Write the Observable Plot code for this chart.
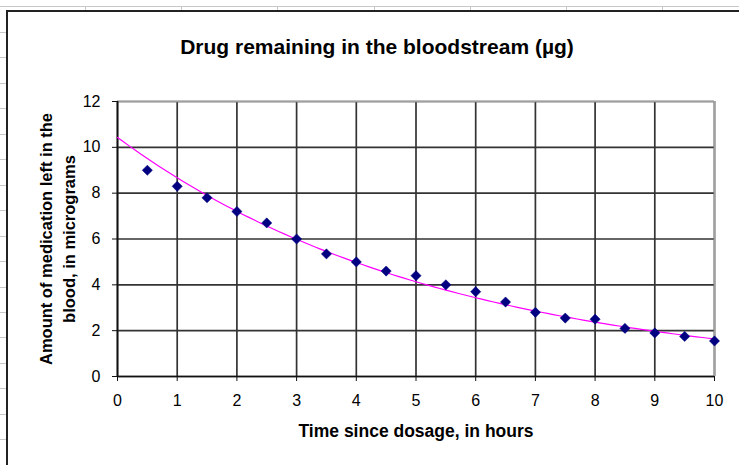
<!DOCTYPE html>
<html>
<head>
<meta charset="utf-8">
<script src="https://cdn.jsdelivr.net/npm/d3@7"></script>
<script src="https://cdn.jsdelivr.net/npm/@observablehq/plot@0.6"></script>
<style>
  html, body { margin: 0; padding: 0; background: #fff; }
  #wrap { position: relative; width: 739px; height: 465px; overflow: hidden; font-family: "Liberation Sans", Arial, sans-serif; }
  .deco { position: absolute; }
  #chart { position: absolute; left: 0; top: 0; }
</style>
</head>
<body>
<div id="wrap"></div>
<script>
// Data
const hours = [0.5, 1, 1.5, 2, 2.5, 3, 3.5, 4, 4.5, 5, 5.5, 6, 6.5, 7, 7.5, 8, 8.5, 9, 9.5, 10];
const micrograms = [9.0, 8.3, 7.8, 7.2, 6.7, 6.0, 5.35, 5.0, 4.6, 4.4, 4.0, 3.7, 3.25, 2.8, 2.55, 2.5, 2.1, 1.9, 1.75, 1.55];
const xTicks = [0, 1, 2, 3, 4, 5, 6, 7, 8, 9, 10];
const yTicks = [0, 2, 4, 6, 8, 10, 12];
const titleText = "Drug remaining in the bloodstream (µg)";
const xLabel = "Time since dosage, in hours";
const yLabel = "Amount of medication left in the\nblood, in micrograms";

const points = hours.map((h, i) => ({hour: h, amount: micrograms[i]}));

// Exponential trendline (least squares on log values, as a spreadsheet does)
const lx = hours, ly = micrograms.map(Math.log);
const mx = d3.mean(lx), my = d3.mean(ly);
const slope = d3.sum(lx, (x, i) => (x - mx) * (ly[i] - my)) / d3.sum(lx, x => (x - mx) ** 2);
const intercept = my - slope * mx;
const trend = d3.range(0, 10.0001, 0.1).map(x => ({hour: x, amount: Math.exp(intercept + slope * x)}));

const wrap = document.getElementById("wrap");

// spreadsheet-like surroundings
function addDeco(css) {
  const d = document.createElement("div");
  d.className = "deco";
  Object.assign(d.style, css);
  wrap.appendChild(d);
}
addDeco({left: "0px", top: "6px", width: "739px", height: "1px", background: "#c8c8c8"});
[85, 181, 277, 374, 470, 566, 662].forEach(x => addDeco({left: x + "px", top: "6px", width: "1px", height: "4px", background: "#c8c8c8"}));
d3.range(32, 465, 25.45).forEach(y => addDeco({left: "0px", top: Math.round(y) + "px", width: "6px", height: "1px", background: "#c8c8c8"}));
addDeco({left: "6px", top: "10px", width: "733px", height: "455px", borderLeft: "2px solid #222", borderTop: "2px solid #222", background: "#fff"});

const chart = Plot.plot({
  width: 739,
  height: 465,
  marginLeft: 117,
  marginRight: 25,
  marginTop: 101,
  marginBottom: 89,
  style: {background: "transparent", fontFamily: "'Liberation Sans', Arial, sans-serif", fontSize: "16px", color: "#000", overflow: "visible"},
  x: {domain: [0, 10], label: null},
  y: {domain: [0, 12], label: null},
  marks: [
    Plot.gridX(xTicks, {stroke: "#333", strokeOpacity: 1, strokeWidth: 1.7}),
    Plot.gridY(yTicks, {stroke: "#333", strokeOpacity: 1, strokeWidth: 1.7}),
    Plot.ruleX([10], {stroke: "#a0a0a0", strokeWidth: 1.7}),
    Plot.ruleY([12], {stroke: "#a0a0a0", strokeWidth: 1.7}),
    Plot.ruleX([0], {stroke: "#111", strokeWidth: 1.7}),
    Plot.ruleY([0], {stroke: "#111", strokeWidth: 1.7}),
    Plot.axisX(xTicks, {stroke: "#111", fontSize: 16, tickSize: 5, tickPadding: 13, label: null, tickFormat: d => String(d)}),
    Plot.axisY(yTicks, {stroke: "#111", fontSize: 16, tickSize: 5, tickPadding: 12, label: null, tickFormat: d => String(d)}),
    Plot.line(trend, {x: "hour", y: "amount", stroke: "#ff00ff", strokeWidth: 1.2}),
    Plot.dot(points, {x: "hour", y: "amount", symbol: "diamond2", r: 4.6, fill: "#000080", stroke: "#000080", strokeWidth: 0.5}),
    Plot.text([titleText], {frameAnchor: "top", lineAnchor: "middle", dx: -39, dy: -54, fontSize: 21, fontWeight: "bold", fill: "#000"}),
    Plot.text([xLabel], {frameAnchor: "bottom", lineAnchor: "middle", dx: 0, dy: 55, fontSize: 17.5, fontWeight: "bold", fill: "#000"}),
    Plot.text([yLabel], {frameAnchor: "left", textAnchor: "middle", lineAnchor: "middle", dx: -61, dy: 0, rotate: -90, fontSize: 16.5, fontWeight: "bold", fill: "#000", lineHeight: 1.4})
  ]
});
chart.id = "chart";
wrap.appendChild(chart);
</script>
</body>
</html>
